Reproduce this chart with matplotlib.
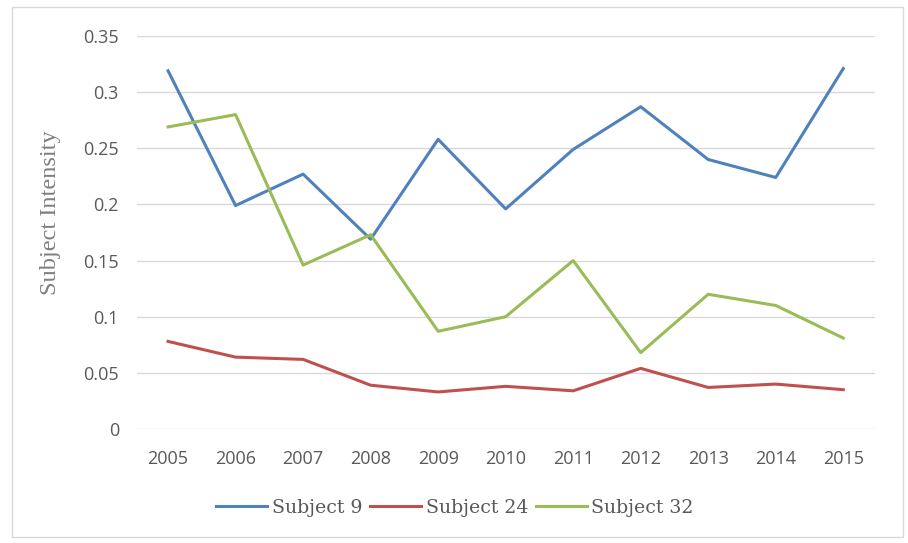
import matplotlib
matplotlib.use('Agg')
import matplotlib.pyplot as plt
from matplotlib.patches import Rectangle

years = ['2005', '2006', '2007', '2008', '2009', '2010', '2011', '2012', '2013', '2014', '2015']
subject9 = [0.319, 0.199, 0.227, 0.169, 0.258, 0.196, 0.249, 0.287, 0.240, 0.224, 0.321]
subject24 = [0.078, 0.064, 0.062, 0.039, 0.033, 0.038, 0.034, 0.054, 0.037, 0.040, 0.035]
subject32 = [0.269, 0.280, 0.146, 0.173, 0.087, 0.100, 0.150, 0.068, 0.120, 0.110, 0.081]
yticks = [0, 0.05, 0.1, 0.15, 0.2, 0.25, 0.3, 0.35]
ytick_labels = ['0', '0.05', '0.1', '0.15', '0.2', '0.25', '0.3', '0.35']

fig = plt.figure(figsize=(9.08, 5.43), dpi=100)
fig.patch.set_facecolor('white')
# light frame around the whole chart
fig.patches.append(Rectangle((12 / 908, 6 / 543), 891 / 908, 530 / 543, transform=fig.transFigure,
                             fill=False, edgecolor='#d9d9d9', linewidth=1))

ax = fig.add_axes([137 / 908, 1 - 429 / 543, 738 / 908, 393 / 543])
x = list(range(len(years)))
ax.plot(x, subject9, color='#4f81bd', linewidth=2.2, label='Subject 9')
ax.plot(x, subject24, color='#c0504d', linewidth=2.2, label='Subject 24')
ax.plot(x, subject32, color='#9bbb59', linewidth=2.2, label='Subject 32')

ax.set_xlim(-0.46, len(years) - 1 + 0.47)
ax.set_ylim(0, 0.35)
ax.set_yticks(yticks)
ax.set_yticklabels(ytick_labels)
ax.set_xticks(x)
ax.set_xticklabels(years)
ax.grid(axis='y', color='#d9d9d9', linewidth=1)
ax.set_axisbelow(True)
for s in ax.spines.values():
    s.set_visible(False)
ax.tick_params(length=0, labelsize=13, labelcolor='#595959')
ax.tick_params(axis='x', pad=15)
ax.tick_params(axis='y', pad=13)
for lab in ax.get_xticklabels() + ax.get_yticklabels():
    lab.set_family('Open Sans')

fig.text(51 / 908, 1 - 213 / 543, 'Subject Intensity', rotation=90, ha='center', va='center',
         fontsize=17.5, color='#7f7f7f', family='Liberation Serif')

ax.legend(loc='center', bbox_to_anchor=(455 / 908, 1 - 508 / 543), bbox_transform=fig.transFigure,
          ncol=3, frameon=False, handlelength=2.7, handletextpad=0.25, columnspacing=0.4,
          prop={'family': 'DejaVu Serif', 'size': 13.6}, labelcolor='#595959')

fig.savefig('out.png', dpi=100)
